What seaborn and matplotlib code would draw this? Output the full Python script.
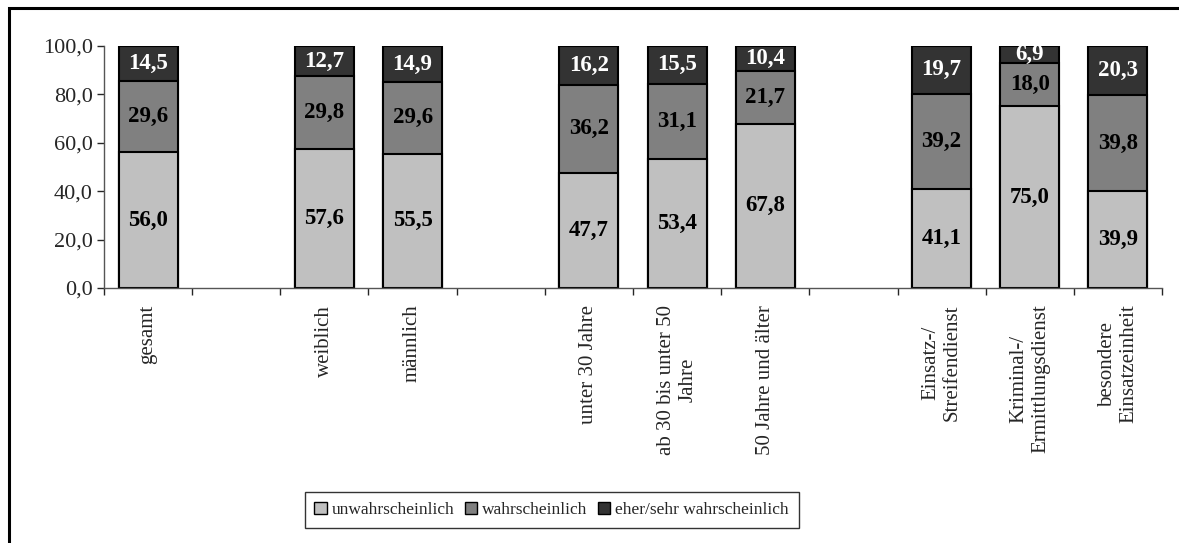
import pandas as pd
import matplotlib.pyplot as plt
import seaborn as sns
from matplotlib.patches import Rectangle, Patch
from matplotlib.ticker import FuncFormatter, FixedLocator

# Kategorien (leere Einträge = Abstand zwischen den Gruppen)
gruppen = ['gesamt', ' ', 'weiblich', 'männlich', '  ', 'unter 30 Jahre',
           'ab 30 bis unter 50\nJahre', '50 Jahre und älter', '   ',
           'Einsatz-/\nStreifendienst', 'Kriminal-/\nErmittlungsdienst',
           'besondere\nEinsatzeinheit']
kategorien = ['gesamt', 'weiblich', 'männlich', 'unter 30 Jahre',
              'ab 30 bis unter 50\nJahre', '50 Jahre und älter',
              'Einsatz-/\nStreifendienst', 'Kriminal-/\nErmittlungsdienst',
              'besondere\nEinsatzeinheit']
unwahrscheinlich = [56.0, 57.6, 55.5, 47.7, 53.4, 67.8, 41.1, 75.0, 39.9]
wahrscheinlich = [29.6, 29.8, 29.6, 36.2, 31.1, 21.7, 39.2, 18.0, 39.8]
eher_sehr = [14.5, 12.7, 14.9, 16.2, 15.5, 10.4, 19.7, 6.9, 20.3]

serien = ['unwahrscheinlich', 'wahrscheinlich', 'eher/sehr wahrscheinlich']
farben = ['#c0c0c0', '#808080', '#333333']
textfarben = ['black', 'black', 'white']

df = pd.DataFrame({'kat': kategorien, 'u': unwahrscheinlich,
                   'w': wahrscheinlich, 'e': eher_sehr})
df['c1'] = df['u']
df['c2'] = df['u'] + df['w']
df['c3'] = df['u'] + df['w'] + df['e']

sns.set_style('white')
plt.rcParams['font.family'] = ['Liberation Serif', 'DejaVu Serif']

fig = plt.figure(figsize=(11.79, 5.43), dpi=100)
ax = fig.add_axes([0.0882, 0.4696, 0.8974, 0.4457])

# gestapelt: kumulierte Summen von oben nach unten übereinander zeichnen
for spalte, farbe in zip(['c3', 'c2', 'c1'], farben[::-1]):
    sns.barplot(data=df, x='kat', y=spalte, order=gruppen, color=farbe,
                width=0.67, edgecolor='black', linewidth=1.5, saturation=1,
                ax=ax)

# Beschriftungen
for i, row in df.iterrows():
    x = gruppen.index(row['kat'])
    unten = 0
    for wert, tf in zip([row['u'], row['w'], row['e']], textfarben):
        ax.text(x, unten + wert / 2, f'{wert:.1f}'.replace('.', ','),
                ha='center', va='center', color=tf, fontsize=16.5,
                fontweight='bold', clip_on=True)
        unten += wert

ax.set_xlim(-0.5, len(gruppen) - 0.5)
ax.set_ylim(0, 100)
ax.set_xlabel('')
ax.set_ylabel('')
ax.set_yticks([0, 20, 40, 60, 80, 100])
ax.yaxis.set_major_formatter(FuncFormatter(lambda v, p: f'{v:.1f}'.replace('.', ',')))
ax.tick_params(axis='y', labelsize=16, length=5, width=1, direction='out', left=True, pad=3)
ax.tick_params(axis='x', which='major', labelsize=15, length=0, pad=12)
ax.set_xticks(range(len(gruppen)))
ax.set_xticklabels(gruppen, rotation=90, va='top', ha='center')
ax.xaxis.set_minor_locator(FixedLocator([i - 0.5 for i in range(len(gruppen) + 1)]))
ax.tick_params(axis='x', which='minor', length=5, width=1, direction='out', bottom=True)
for s in ['top', 'right']:
    ax.spines[s].set_visible(False)
for s in ['left', 'bottom']:
    ax.spines[s].set_color('#555555')
    ax.spines[s].set_linewidth(1)

handles = [Patch(facecolor=f, edgecolor='black', linewidth=1) for f in farben]
leg = fig.legend(handles, serien, loc='center', bbox_to_anchor=(0.468, 0.061),
                 ncol=3, frameon=True, fancybox=False, fontsize=12.5,
                 handlelength=0.7, handleheight=0.7, handletextpad=0.3,
                 columnspacing=0.6, borderpad=0.55)
leg.get_frame().set_edgecolor('black')
leg.get_frame().set_linewidth(1)

fig.patches.append(Rectangle((0.008, -0.2), 1.2, 1.186, transform=fig.transFigure,
                             fill=False, edgecolor='black', linewidth=2.2))

fig.savefig('out.png', dpi=100)
